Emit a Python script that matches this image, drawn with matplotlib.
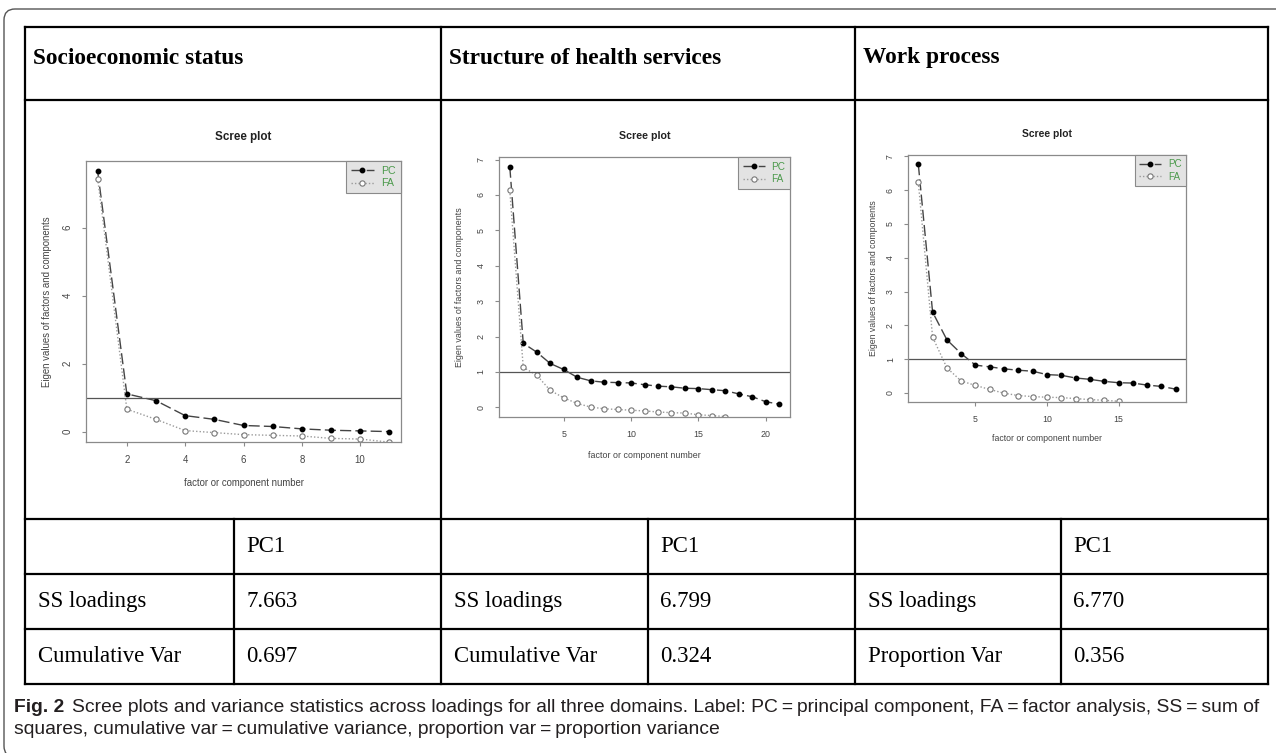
import numpy as np
import matplotlib.pyplot as plt
from matplotlib.patches import PathPatch
from matplotlib.path import Path
from matplotlib.lines import Line2D
import matplotlib.transforms as mtransforms

W, H = 1276, 753

# scree plot data (eigen values)
pc_ses = [7.66, 1.11, 0.91, 0.47, 0.36, 0.18, 0.15, 0.08, 0.04, 0.02, 0.00]
fa_ses = [7.45, 0.66, 0.36, 0.03, -0.03, -0.09, -0.11, -0.13, -0.20, -0.22, -0.31]

pc_hs = [6.80, 1.81, 1.56, 1.24, 1.07, 0.85, 0.75, 0.71, 0.70, 0.69, 0.64,
         0.60, 0.58, 0.54, 0.53, 0.50, 0.47, 0.38, 0.30, 0.16, 0.09]
fa_hs = [6.13, 1.13, 0.91, 0.48, 0.27, 0.11, 0.01, -0.04, -0.06, -0.08, -0.10,
         -0.13, -0.15, -0.16, -0.21, -0.23, -0.26]

pc_wp = [6.77, 2.39, 1.57, 1.16, 0.82, 0.77, 0.71, 0.67, 0.64, 0.54, 0.52,
         0.44, 0.40, 0.34, 0.30, 0.29, 0.23, 0.19, 0.11]
fa_wp = [6.24, 1.65, 0.74, 0.35, 0.22, 0.10, -0.01, -0.08, -0.11, -0.13, -0.14,
         -0.17, -0.20, -0.22, -0.25]

domains = ["Socioeconomic status", "Structure of health services", "Work process"]
row_names = [["SS loadings", "Cumulative Var"],
             ["SS loadings", "Cumulative Var"],
             ["SS loadings", "Proportion Var"]]
row_vals = [["7.663", "0.697"], ["6.799", "0.324"], ["6.770", "0.356"]]
xticks = [[2, 4, 6, 8, 10], [5, 10, 15, 20], [5, 10, 15]]
yticks = [[0, 2, 4, 6], [0, 1, 2, 3, 4, 5, 6, 7], [0, 1, 2, 3, 4, 5, 6, 7]]

caption_bold = "Fig. 2"
caption_1 = ("Scree plots and variance statistics across loadings for all three domains. "
             "Label: PC\u2009=\u2009principal component, FA\u2009=\u2009factor analysis, SS\u2009=\u2009sum of")
caption_2 = ("squares, cumulative var\u2009=\u2009cumulative variance, "
             "proportion var\u2009=\u2009proportion variance")


def fx(x):
    return x / W


def fy(y):
    return 1 - y / H


fig = plt.figure(figsize=(W / 100, H / 100), dpi=100)

# outer frame (pixel coords, y down) with rounded left corners
px = mtransforms.Affine2D().scale(1 / W, -1 / H).translate(0, 1) + fig.transFigure
rr = 11
bot = 757
verts = [(1300, 9), (4 + rr, 9), (4, 9), (4, 9 + rr), (4, bot - rr), (4, bot), (4 + rr, bot), (1300, bot)]
codes = [Path.MOVETO, Path.LINETO, Path.CURVE3, Path.CURVE3, Path.LINETO,
         Path.CURVE3, Path.CURVE3, Path.LINETO]
fig.patches.append(PathPatch(Path(verts, codes), transform=px, fill=False,
                             edgecolor="#555555", lw=1.0))

# table grid
tl, tr = 25, 1268
col_x = [25, 441, 855, 1268]
inner_x = [234, 648, 1061]
row_y = [27, 100, 519, 574, 629, 684]

for y in row_y:
    fig.lines.append(Line2D([tl, tr], [y, y], color="black", lw=1.6, transform=px))
for x in col_x:
    fig.lines.append(Line2D([x, x], [row_y[0], row_y[-1]], color="black", lw=1.6, transform=px))
for x in inner_x:
    fig.lines.append(Line2D([x, x], [row_y[2], row_y[-1]], color="black", lw=1.6, transform=px))

serif = "Liberation Serif"
for i in range(3):
    fig.text(fx(col_x[i] + 8), fy(58), domains[i], family=serif,
             weight="bold", fontsize=16.8, va="center", ha="left")
    fig.text(fx(inner_x[i] + 12), fy(546.5), "PC1", family=serif,
             fontsize=16.4, va="center")
    for j in range(2):
        yc = (row_y[3 + j] + row_y[4 + j]) / 2
        fig.text(fx(col_x[i] + 13), fy(yc), row_names[i][j], family=serif,
                 fontsize=16.4, va="center")
        fig.text(fx(inner_x[i] + 12), fy(yc), row_vals[i][j], family=serif,
                 fontsize=16.4, va="center")

# scree plots
sans = "Liberation Sans"
boxes = [(86, 401, 161, 442), (499, 790, 157, 417), (908, 1186, 155, 402)]
pcs = [pc_ses, pc_hs, pc_wp]
fas = [fa_ses, fa_hs, fa_wp]
title_y = [137, 136, 134]
xlab_y = [483, 456, 438]
ylab_x = [47, 460, 873]
fsz = [6.9, 6.4, 6.3]
tsz = [8.4, 7.7, 7.4]

for i in range(3):
    l, r, t, b = boxes[i]
    ax = fig.add_axes([fx(l), fy(b), (r - l) / W, (b - t) / H])
    pc = pcs[i]
    fa = fas[i]
    xs_pc = np.arange(1, len(pc) + 1)
    xs_fa = np.arange(1, len(fa) + 1)
    ax.plot(xs_pc, pc, color="#444444", lw=1.0, ls=(0, (8, 3)), marker="o",
            ms=3.2, mfc="black", mec="black", label="PC")
    ax.plot(xs_fa, fa, color="#9a9a9a", lw=1.0, ls=(0, (1, 1.5)), marker="o",
            ms=3.8, mfc="white", mec="#777777", mew=0.8, label="FA")
    ax.axhline(1, color="#555555", lw=0.9)
    n = len(pc)
    ax.set_xlim(1 - 0.04 * (n - 1), n + 0.04 * (n - 1))
    top = max(pc)
    ax.set_ylim(-0.04 * top, top * 1.04)
    ax.set_xticks(xticks[i])
    ax.set_yticks(yticks[i])
    for s in ax.spines.values():
        s.set_color("#8a8a8a")
        s.set_linewidth(0.9)
    ax.tick_params(colors="#8a8a8a", labelcolor="#444444", length=3,
                   width=0.8, labelsize=fsz[i], pad=6.5)
    for lab in ax.get_xticklabels() + ax.get_yticklabels():
        lab.set_family(sans)
    for lab in ax.get_yticklabels():
        lab.set_rotation(90)
        lab.set_va("center")
    leg = ax.legend(loc="upper right", borderaxespad=0, fancybox=False,
                    facecolor="#e3e3e3", edgecolor="#8a8a8a", framealpha=1,
                    labelcolor="#4c9a4c", prop={"family": sans, "size": fsz[i] + 0.8},
                    handlelength=2.2, borderpad=0.45, labelspacing=0.25,
                    handletextpad=0.7)
    leg.get_frame().set_linewidth(0.8)
    cx = (l + r) / 2
    fig.text(fx(cx), fy(title_y[i]), "Scree plot", family=sans, weight="bold",
             fontsize=tsz[i], ha="center", va="center", color="#222222")
    fig.text(fx(cx), fy(xlab_y[i]), "factor or component number", family=sans,
             fontsize=fsz[i], ha="center", va="center", color="#444444")
    fig.text(fx(ylab_x[i]), fy((t + b) / 2), "Eigen values of factors and components",
             family=sans, fontsize=fsz[i], ha="center", va="center",
             rotation=90, color="#444444")

# caption, fitted to the width of the reference line
cap_font = ["Liberation Sans", "DejaVu Sans"]
renderer = fig.canvas.get_renderer()
fb = fig.text(fx(14), fy(707), caption_bold, family=cap_font, weight="bold",
              fontsize=12.5, color="#231f20", va="center")
bb = fb.get_window_extent(renderer)
start = bb.x1 + 9
c1 = fig.text(start / W, fy(707), caption_1, family=cap_font, fontsize=12.5,
              color="#231f20", va="center")
w1 = c1.get_window_extent(renderer).width
size = 12.5 * (1263 - 14) / (w1 + bb.width + 9)
c1.set_fontsize(size)
fb.set_fontsize(size)
bb = fb.get_window_extent(renderer)
c1.set_x((bb.x1 + 8) / W)
fig.text(fx(14), fy(729), caption_2, family=cap_font, fontsize=size,
         color="#231f20", va="center")

fig.savefig("out.png", dpi=100)
